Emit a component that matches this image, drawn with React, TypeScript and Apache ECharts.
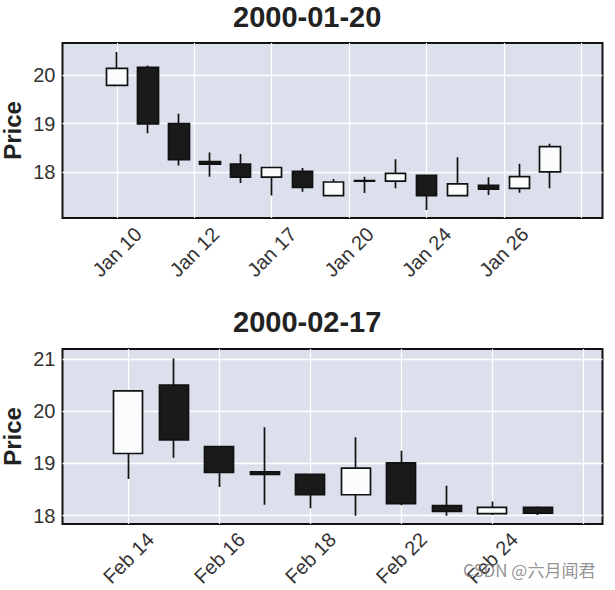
import React, { useEffect, useRef } from "react";
import * as echarts from "echarts";

// ---- Panel 1 (January) ----
const janTitle = "2000-01-20";
const janDates = ["Jan 10", "Jan 11", "Jan 12", "Jan 13", "Jan 14", "Jan 17", "Jan 18", "Jan 19", "Jan 20", "Jan 21", "Jan 24", "Jan 25", "Jan 26", "Jan 27", "Jan 28"];
const janOpen = [19.79, 20.16, 19.0, 18.21, 18.16, 17.89, 18.01, 17.51, 17.81, 17.81, 17.93, 17.51, 17.72, 17.66, 18.0];
const janClose = [20.14, 18.99, 18.25, 18.16, 17.89, 18.09, 17.68, 17.79, 17.82, 17.97, 17.51, 17.75, 17.64, 17.9, 18.52];
const janLow = [19.78, 18.8, 18.13, 17.9, 17.77, 17.51, 17.59, 17.5, 17.56, 17.66, 17.21, 17.5, 17.52, 17.57, 17.66];
const janHigh = [20.48, 20.2, 19.2, 18.4, 18.37, 18.1, 18.08, 17.85, 17.9, 18.26, 17.94, 18.3, 17.89, 18.17, 18.58];
const janTickPos = [0, 2.5, 5, 7.5, 10, 12.5, 15];
const janTickLabels = ["Jan 10", "Jan 12", "Jan 17", "Jan 20", "Jan 24", "Jan 26", ""];
const janYTicks = [18, 19, 20];

// ---- Panel 2 (February) ----
const febTitle = "2000-02-17";
const febDates = ["Feb 14", "Feb 15", "Feb 16", "Feb 17", "Feb 18", "Feb 21", "Feb 22", "Feb 23", "Feb 24", "Feb 25"];
const febOpen = [19.19, 20.5, 19.32, 18.84, 18.79, 18.4, 19.01, 18.19, 18.04, 18.16];
const febClose = [20.39, 19.45, 18.83, 18.79, 18.4, 18.91, 18.23, 18.08, 18.16, 18.05];
const febLow = [18.7, 19.11, 18.55, 18.21, 18.14, 18.0, 18.2, 18.0, 18.01, 18.01];
const febHigh = [20.4, 21.01, 19.33, 19.69, 18.8, 19.5, 19.24, 18.57, 18.27, 18.18];
const febTickPos = [0, 2, 4, 6, 8, 10];
const febTickLabels = ["Feb 14", "Feb 16", "Feb 18", "Feb 22", "Feb 24", ""];
const febYTicks = [18, 19, 20, 21];

const FONT = "Liberation Sans";

function ohlc(dates: string[], o: number[], c: number[], l: number[], h: number[]) {
  return dates.map((_, i) => [i, o[i], c[i], l[i], h[i]]);
}

function xAxisFor(gridIndex: number, min: number, max: number, pos: number[], labels: string[]) {
  return {
    gridIndex,
    type: "value",
    min,
    max,
    axisLine: { show: false },
    axisTick: { show: false, customValues: pos },
    axisLabel: {
      customValues: pos,
      formatter: (v: number) => {
        const k = pos.findIndex((p) => Math.abs(p - v) < 1e-6);
        return k >= 0 ? labels[k] : "";
      },
      rotate: 45,
      align: "center",
      verticalAlign: "middle",
      margin: 34,
      fontSize: 20,
      color: "#333",
      fontFamily: FONT,
    },
    splitLine: { show: true, lineStyle: { color: "#ffffff", width: 1.3 } },
  };
}

function yAxisFor(gridIndex: number, min: number, max: number, ticks: number[]) {
  return {
    gridIndex,
    type: "value",
    min,
    max,
    name: "Price",
    nameLocation: "middle",
    nameGap: 38,
    nameMoveOverlap: false,
    nameTextStyle: { fontSize: 24, fontWeight: "bold", color: "#222", fontFamily: FONT },
    axisLine: { show: false },
    axisTick: { show: false, customValues: ticks },
    axisLabel: { customValues: ticks, fontSize: 20, color: "#333", margin: 7, fontFamily: FONT },
    splitLine: { show: true, lineStyle: { color: "#ffffff", width: 1.3 } },
  };
}

const candleStyle = {
  color: "#fbfcfd",
  color0: "#1a1a1a",
  borderColor: "#111",
  borderColor0: "#111",
  borderColorDoji: "#111",
  borderWidth: 1.7,
};

export default function App() {
  const ref = useRef<HTMLDivElement>(null);
  useEffect(() => {
    if (!ref.current) return;
    const chart = echarts.init(ref.current, undefined, { renderer: "svg" });
    const gridBase = {
      left: 62.5,
      width: 540,
      height: 175,
      show: true,
      outerBoundsMode: "none",
      containLabel: false,
      backgroundColor: "#dbe0ec",
      borderColor: "#111",
      borderWidth: 2,
    };
    chart.setOption({
      animation: false,
      title: [
        { text: janTitle, left: 228, top: -3, textStyle: { fontSize: 29, fontWeight: "bold", color: "#222", fontFamily: FONT } },
        { text: febTitle, left: 228, top: 302, textStyle: { fontSize: 29, fontWeight: "bold", color: "#222", fontFamily: FONT } },
      ],
      grid: [
        { ...gridBase, top: 43 },
        { ...gridBase, top: 349 },
      ],
      xAxis: [
        xAxisFor(0, -1.76, 15.69, janTickPos, janTickLabels),
        xAxisFor(1, -1.45, 10.42, febTickPos, febTickLabels),
      ],
      yAxis: [
        yAxisFor(0, 17.045, 20.666, janYTicks),
        yAxisFor(1, 17.84, 21.19, febYTicks),
      ],
      series: [
        {
          type: "candlestick",
          xAxisIndex: 0,
          yAxisIndex: 0,
          barWidth: 21,
          encode: { x: 0, y: [1, 2, 3, 4] },
          itemStyle: candleStyle,
          data: ohlc(janDates, janOpen, janClose, janLow, janHigh),
        },
        {
          type: "candlestick",
          xAxisIndex: 1,
          yAxisIndex: 1,
          barWidth: 29.5,
          encode: { x: 0, y: [1, 2, 3, 4] },
          itemStyle: candleStyle,
          data: ohlc(febDates, febOpen, febClose, febLow, febHigh),
        },
      ],
      graphic: [
        {
          type: "text",
          left: 463,
          top: 561,
          z: 100,
          style: {
            text: "CSDN @六月闻君",
            font: '17px "Noto Sans CJK SC"',
            fill: "rgba(120,120,120,0.8)",
          },
        },
      ],
    });
    return () => chart.dispose();
  }, []);
  return (
    <div
      ref={ref}
      style={{ position: "fixed", left: 0, top: 0, width: 615, height: 590, background: "#fff" }}
    />
  );
}
